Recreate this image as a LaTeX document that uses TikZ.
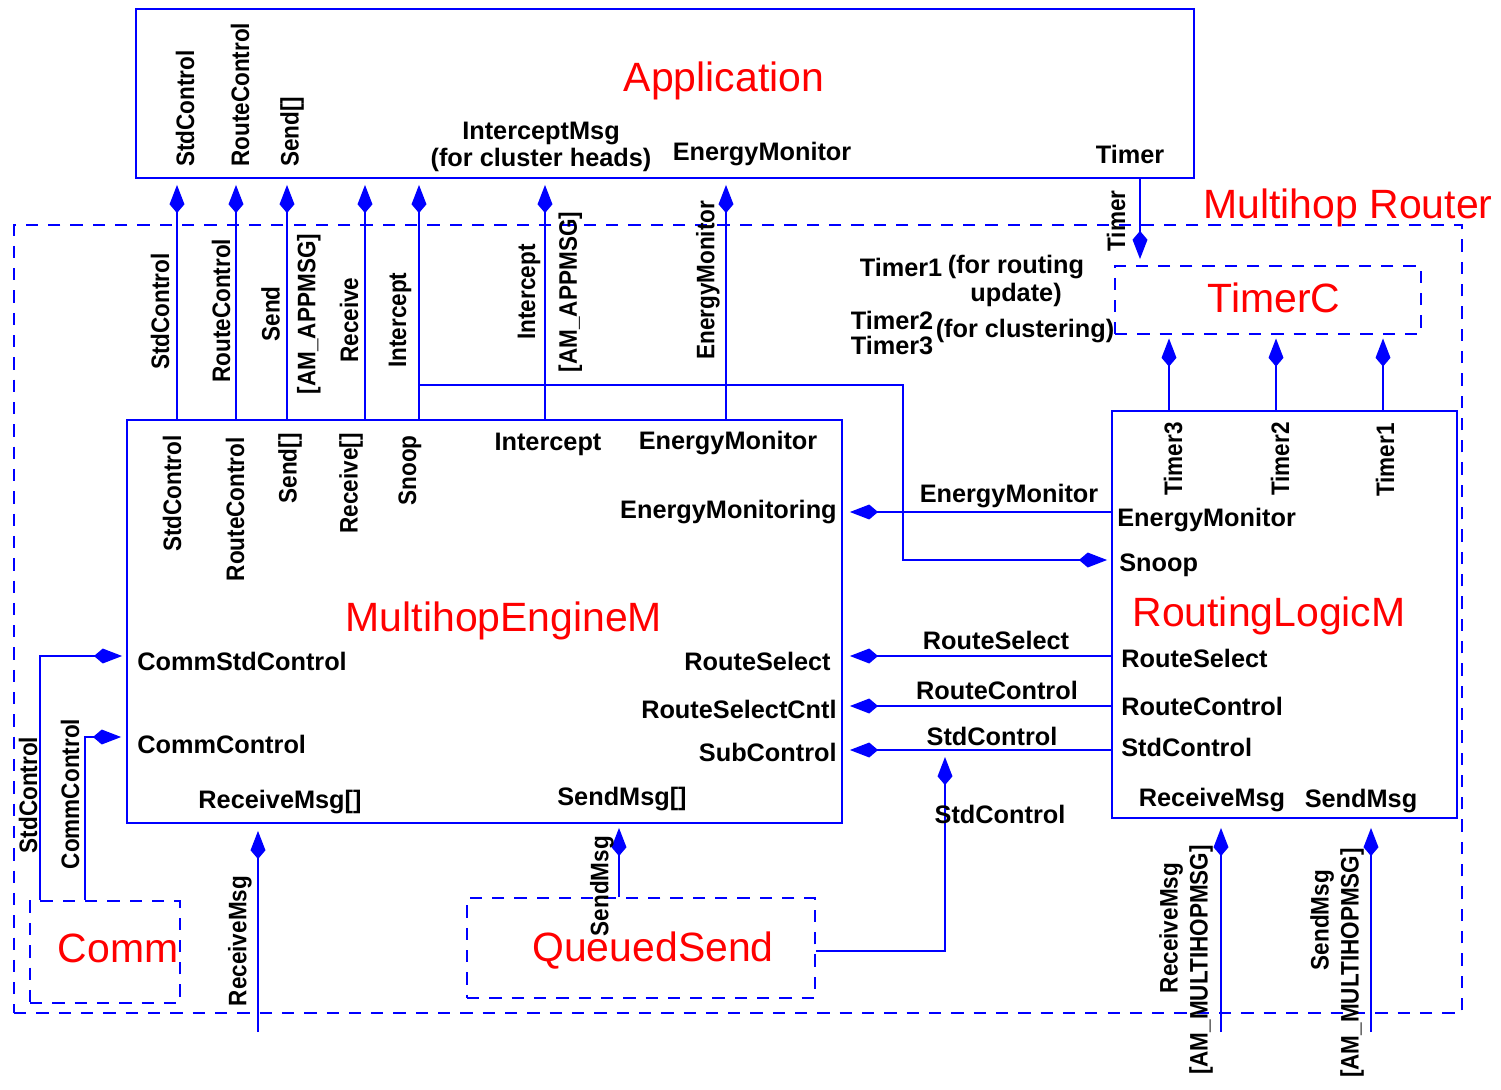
\documentclass[tikz,border=0pt]{standalone}
\usepackage{fontspec}
\setmainfont{Liberation Sans}
\usetikzlibrary{arrows.meta, positioning}
\definecolor{wireblue}{rgb}{0, 0, 1}
\definecolor{modred}{rgb}{1, 0, 0}

\tikzset{
  port/.style={font=\fontsize{14.4}{17}\selectfont\bfseries, inner sep=0pt},
  vport/.style={port, rotate=90, xscale=0.89},
  modname/.style={font=\fontsize{23.3}{28}\selectfont, text=modred, inner sep=0pt},
  modbox/.style={draw=wireblue, line width=1.1pt, inner sep=0pt},
  cfgbox/.style={modbox, dash pattern=on 7pt off 5.7pt},
  wire/.style={wireblue, line width=1.1pt, -{Kite[length=16pt, width=8.5pt, inset=5pt]}, shorten >=0.12cm},
}

\begin{document}
\begin{tikzpicture}[x=0.02cm, y=-0.02cm]
			\useasboundingbox (0,0) rectangle (1501,1089);

			% boxes
			\node [cfgbox, minimum width=28.96cm, minimum height=15.76cm] (router) at (738,619) {};
			\node [modbox, minimum width=21.16cm, minimum height=3.38cm] (app) at (665,93.5) {};
			\node [cfgbox, minimum width=6.12cm, minimum height=1.36cm] (timerc) at (1268,300) {};
			\node [modbox, minimum width=14.3cm, minimum height=8.06cm] (engine) at (484.5,621.5) {};
			\node [modbox, minimum width=6.9cm, minimum height=8.14cm] (logic) at (1284.5,614.5) {};
			\node [cfgbox, minimum width=3cm, minimum height=2.04cm] (comm) at (105,952) {};
			\node [cfgbox, minimum width=6.96cm, minimum height=2cm] (queued) at (641,948) {};

			\node [modname] (tApp) at (724,81) {Application};
			\node [modname] (tRouter) at (1348,208) {Multihop Router};
			\node [modname] (tTimerC) at (1274,298) {TimerC};
			\node [modname] (tEngine) at (504,621) {MultihopEngineM};
			\node [modname] (tLogic) at (1269,616) {RoutingLogicM};
			\node [modname] (tComm) at (118,948) {Comm};
			\node [modname] (tQueued) at (653,951) {QueuedSend};

			% Application ports
			\node [vport, anchor=west] (aStd) at (185,167) {StdControl};
			\node [vport, anchor=west] (aRoute) at (240,167) {RouteControl};
			\node [vport, anchor=west] (aSend) at (292,167) {Send[]};
			\node [port, align=center] (aIcpt) at (541,147) {InterceptMsg\\[-1.7pt](for cluster heads)};
			\node [port] (aEnergy) at (762,154) {EnergyMonitor};
			\node [port] (aTimer) at (1130,154) {Timer};

			% MultihopEngineM ports
			\node [vport, anchor=east] (eStd) at (172,435) {StdControl};
			\node [vport, anchor=east] (eRoute) at (235,437) {RouteControl};
			\node [vport, anchor=east] (eSend) at (290,433) {Send[]};
			\node [vport, anchor=east] (eRecv) at (351,433) {Receive[]};
			\node [vport, anchor=east] (eSnoop) at (410,435) {Snoop};
			\node [port] (eIcpt) at (548,444) {Intercept};
			\node [port] (eEnergy) at (728,443) {EnergyMonitor};
			\node [port, anchor=east] (eMonitoring) at (837,512) {EnergyMonitoring};
			\node [port, anchor=west] (eCommStd) at (137,661) {CommStdControl};
			\node [port, anchor=west] (eCommCtl) at (137,744) {CommControl};
			\node [port, anchor=east] (eSelect) at (831,661) {RouteSelect};
			\node [port, anchor=east] (eSelCntl) at (837,709) {RouteSelectCntl};
			\node [port, anchor=east] (eSub) at (837,752) {SubControl};
			\node [port] (eRcvMsg) at (280,802) {ReceiveMsg[]};
			\node [port] (eSndMsg) at (622,799) {SendMsg[]};

			% RoutingLogicM ports
			\node [vport, anchor=east] (lT3) at (1173,422) {Timer3};
			\node [vport, anchor=east] (lT2) at (1280,422) {Timer2};
			\node [vport, anchor=east] (lT1) at (1385,423) {Timer1};
			\node [port, anchor=west] (lEnergy) at (1117,520) {EnergyMonitor};
			\node [port, anchor=west] (lSnoop) at (1119,565) {Snoop};
			\node [port, anchor=west] (lSelect) at (1121,658) {RouteSelect};
			\node [port, anchor=west] (lRoute) at (1121,706) {RouteControl};
			\node [port, anchor=west] (lStd) at (1121,747) {StdControl};
			\node [port] (lRcv) at (1212,800) {ReceiveMsg};
			\node [port] (lSnd) at (1361,801) {SendMsg};

			% wires to Application
			\foreach \px in {177,236,287,365,419,545,726}{
				\coordinate (up\px) at (\px,0);
				\draw [wire] (up\px |- engine.north) -- (up\px |- app.south);
			}
			\coordinate (snoopbend) at (903,385);
			\draw [wire, shorten >=0.08cm] (up419 |- snoopbend) -- (snoopbend) |- (logic.west |- 0,560);

			\node [vport, anchor=west] (wStd) at (160,370) {StdControl};
			\node [vport, anchor=west] (wRoute) at (221,383) {RouteControl};
			\node [vport, align=center] (wSend) at (291,314) {Send\\[3.4pt]{[}AM\_APPMSG{]}};
			\node [vport, anchor=west] (wRecv) at (349,363) {Receive};
			\node [vport, anchor=west] (wSnoop) at (400,368) {Intercept};
			\node [vport, align=center] (wIcpt) at (550,292) {Intercept\\[6.8pt]{[}AM\_APPMSG{]}};
			\node [vport, anchor=west] (wEnergy) at (708,360) {EnergyMonitor};

			% timers
			\foreach \px in {1169,1276,1383}{
				\coordinate (tm\px) at (\px,0);
				\draw [wire, shorten >=0.07cm] (tm\px |- logic.north) -- (tm\px |- timerc.south);
			}
			\coordinate (tmdown) at (1140,0);
			\draw [wire] (tmdown |- app.south) -- (tmdown |- timerc.north);
			\node [vport] (wTimer) at (1116,221) {Timer};
			\node [port] (tm1) at (901,267) {Timer1};
			\node [port, align=center] (tm1why) at (1016,281) {(for routing\\[-1.1pt]update)};
			\node [port, align=center] (tm23) at (892,333) {Timer2\\[-2.3pt]Timer3};
			\node [port] (tm23why) at (1025,331) {(for clustering)};

			% RoutingLogicM to MultihopEngineM
			\foreach \py in {512,656,706,750}{
				\draw [wire, shorten >=0.14cm] (logic.west |- 0,\py) -- (engine.east |- 0,\py);
			}
			\node [port] (wEM) at (1009,496) {EnergyMonitor};
			\node [port] (wSel) at (996,640) {RouteSelect};
			\node [port] (wRC) at (997,690) {RouteControl};
			\node [port] (wSC) at (992,736) {StdControl};

			% Comm
			\coordinate (cstd) at (40,656);
			\coordinate (cctl) at (85,737);
			\draw [wire, shorten >=0.08cm] (cstd |- comm.north) |- (engine.west |- cstd);
			\draw [wire, shorten >=0.1cm] (cctl |- comm.north) |- (engine.west |- cctl);
			\node [vport] (wCommStd) at (28,795) {StdControl};
			\node [vport] (wCommCtl) at (70,794) {CommControl};

			% messages
			\coordinate (rcvfoot) at (258,1032);
			\draw [wire, shorten >=0.14cm] (rcvfoot) -- (rcvfoot |- engine.south);
			\node [vport] (wRcvMsg) at (240,941) {ReceiveMsg};
			\coordinate (sndup) at (619,0);
			\draw [wire, shorten >=0.08cm] (sndup |- queued.north) -- (sndup |- engine.south);
			\node [vport] (wSndMsg) at (602,886) {SendMsg};

			% QueuedSend StdControl
			\coordinate (qstd) at (945,757);
			\draw [wire, shorten >=0pt] (queued.east |- 0,951) -| (qstd);
			\node [port] (wQS) at (1000,814) {StdControl};

			% multihop messages
			\coordinate (mrcv) at (1221,1032);
			\coordinate (msnd) at (1371,1032);
			\draw [wire, shorten >=0.18cm] (mrcv) -- (mrcv |- logic.south);
			\draw [wire, shorten >=0.18cm] (msnd) -- (msnd |- logic.south);
			\node [vport] (wMRcv) at (1171,928) {ReceiveMsg};
			\node [vport] (wMRcvAM) at (1201,960) {{[}AM\_MULTIHOPMSG{]}};
			\node [vport] (wMSnd) at (1322,920) {SendMsg};
			\node [vport] (wMSndAM) at (1352,963) {{[}AM\_MULTIHOPMSG{]}};
		\end{tikzpicture}
\end{document}
